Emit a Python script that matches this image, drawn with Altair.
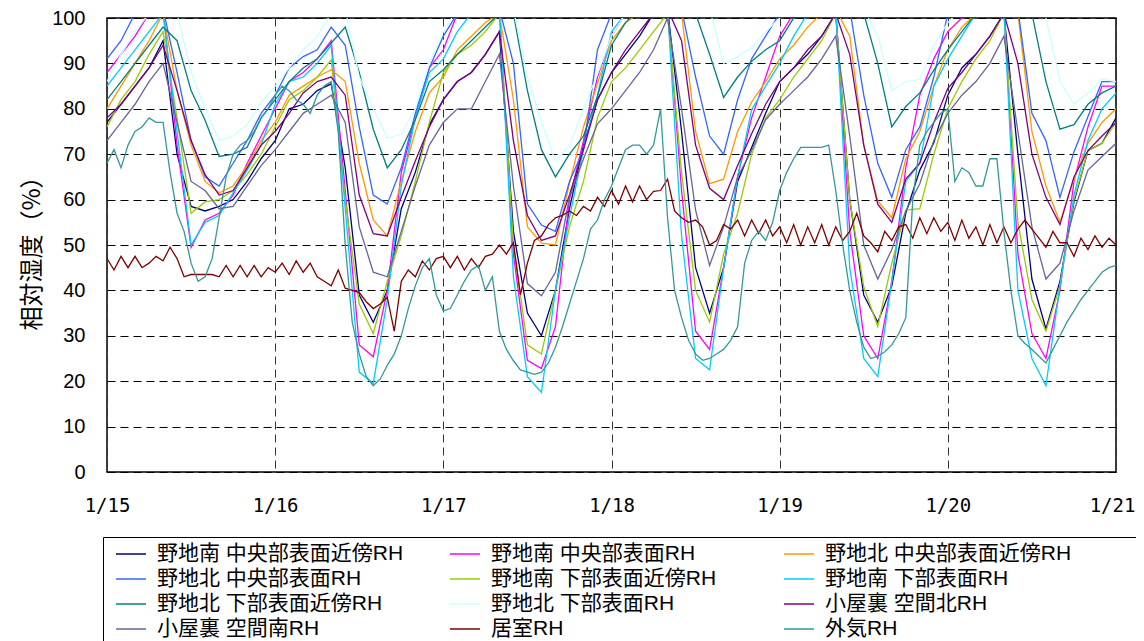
import altair as alt
import pandas as pd

# ---------------- data ----------------
HOURS_2H = list(range(0, 145, 2))      # hours since 1/15 0:00, every 2 h
HOURS_1H = list(range(0, 145))         # hourly grid

DAY_TICKS = [0, 24, 48, 72, 96, 120, 144]
DAY_LABELS = ["1/15", "1/16", "1/17", "1/18", "1/19", "1/20", "1/21"]
Y_TICKS = [0, 10, 20, 30, 40, 50, 60, 70, 80, 90, 100]

SERIES_NAMES = [
    "野地南 中央部表面近傍RH", "野地南 中央部表面RH", "野地北 中央部表面近傍RH",
    "野地北 中央部表面RH", "野地南 下部表面近傍RH", "野地南 下部表面RH",
    "野地北 下部表面近傍RH", "野地北 下部表面RH", "小屋裏 空間北RH",
    "小屋裏 空間南RH", "居室RH", "外気RH",
]
SERIES_COLORS = [
    "#000080", "#FF00FF", "#FF9900",
    "#3366FF", "#99CC00", "#00CCFF",
    "#008080", "#CCFFFF", "#800080",
    "#666699", "#800000", "#339999",
]

S_NAVY = [77, 81, 85, 89, 95, 70, 58.5, 57.5, 58.5, 60, 64, 69,
          73, 80, 81, 84, 85.5, 67, 39, 33, 40, 58, 66, 76.5,
          82, 86, 88, 92, 97, 53, 35, 30, 40, 58, 72, 82,
          88, 92, 96, 101, 102, 75, 45, 35, 45, 64, 71.5, 79,
          86, 89, 92, 96, 101, 60, 39, 33, 41, 57, 66.5, 72.5,
          83, 89, 92, 96, 101, 70, 42.5, 31.5, 42, 59.5, 70.8, 72.4,
          78]
S_MAGENTA = [88, 92, 96, 101, 102, 72, 49.5, 55.5, 57, 61, 68, 74,
             80, 86, 88, 91, 95, 62, 28, 25.4, 40, 66, 78, 89,
             93, 101, 102, 102, 102, 48, 24.6, 22.8, 32, 60, 73, 87,
             96, 101, 102, 102, 102, 62, 31, 27, 45, 65, 78, 87,
             96, 101, 102, 102, 102, 53, 30, 25, 42, 67, 83, 91,
             97, 100, 102, 102, 102, 48, 30.5, 25, 40, 64, 76, 85,
             85]
S_ORANGE = [80, 85, 90, 95, 101, 84, 72, 64, 61.5, 63, 67.5, 73,
            77, 83, 85, 87, 88.6, 86, 68, 55.5, 52, 64, 75, 83.5,
            87, 93, 96, 99, 101, 82, 54, 50.4, 50, 63.5, 76, 85.6,
            95, 99, 101, 102, 102, 101, 75, 63.5, 64.5, 75, 81.5, 86,
            91, 94, 98, 101, 102, 96, 72, 59.7, 56, 69, 75, 85,
            93, 98, 101, 102, 102, 101, 75, 63, 55, 64.5, 72.4, 77,
            80]
S_ROYAL = [91, 95, 101, 102, 102, 88, 73, 65, 63, 68, 73, 79,
           83, 89, 91.5, 93, 98, 94, 76, 61, 59, 67, 79, 89,
           96, 101, 102, 102, 102, 90, 59, 54.4, 53, 64, 71, 93,
           101, 102, 102, 102, 102, 102, 87, 74, 70, 82, 91, 96,
           101, 102, 102, 102, 102, 102, 83, 68, 60.5, 71, 76, 87,
           101, 102, 102, 102, 102, 102, 79, 73, 60.5, 70.5, 78.3, 86,
           86]
S_YGREEN = [76, 82, 86, 92, 97, 78, 57, 59.5, 60, 62, 65.5, 70,
            76, 82, 84, 87, 90.8, 60, 37, 30.5, 42, 52, 64, 77,
            88, 92, 94, 97, 101, 50, 28, 26, 40, 54, 64, 78,
            86, 89, 93, 97, 101, 66, 40, 33, 48, 57, 70, 78,
            82, 87, 91, 95, 101, 60, 40.8, 32, 46, 57.7, 58, 70,
            80, 86, 91, 95, 101, 55, 38, 31, 41, 60, 70.8, 72.4,
            77]
S_SKY = [85, 89, 93, 97, 101, 75, 50, 55, 56.5, 61.5, 66.5, 72,
         81, 86, 87, 90, 94, 58, 22, 19.5, 38, 63, 78, 88,
         91, 97, 101, 102, 102, 43, 21, 17.5, 40, 56, 71, 83,
         97, 101, 102, 102, 102, 52, 25, 22.5, 45, 65, 79.8, 85,
         90, 96, 101, 102, 102, 45, 25, 21, 42, 64, 68, 85,
         91, 96, 101, 102, 102, 40, 25, 19, 41, 61, 73, 80,
         83.5]
S_TEAL = [82, 86, 90, 94, 98, 95, 84, 77.5, 69.5, 70, 71.5, 78,
          82, 86, 89, 91, 94.5, 98, 88, 75.5, 67, 71, 77.6, 86,
          88.6, 92, 95, 98, 101, 101, 84, 71, 65, 70, 74, 82.7,
          94, 99, 102, 102, 102, 102, 101, 92, 82.5, 87, 90.5, 93,
          95, 100, 102, 102, 102, 102, 101, 90, 76, 80.5, 83.5, 88.5,
          93, 97, 101, 102, 102, 102, 101, 86, 75.5, 76.5, 81, 83.5,
          85]
S_LCYAN = [86, 92, 97, 101, 102, 101, 88, 80, 73, 74, 76.5, 81.5,
           85, 89, 93, 96, 101, 102, 87, 80, 73.5, 74.5, 80, 90,
           97, 102, 102, 102, 102, 102, 87, 77, 68.5, 72, 80, 87.6,
           96, 101, 102, 102, 102, 102, 102, 102, 90, 91.5, 93.5, 97,
           100, 102, 102, 102, 102, 102, 102, 96, 84, 86, 86.5, 94,
           99, 102, 102, 102, 102, 102, 102, 100, 86, 81, 83.5, 86.5,
           86]
S_PURPLE = [78, 81, 85, 89, 94, 84, 73, 65.5, 61, 62, 67, 72,
            75, 79, 83.5, 86, 87, 83, 61, 52.5, 52, 60.5, 68.5, 76,
            82, 86, 88, 92, 97, 73, 56.5, 51, 52, 61, 71, 82,
            88, 93, 97, 101, 102, 95, 72, 62.5, 60, 67.5, 74.5, 81,
            86, 89, 93, 96, 101, 92, 72, 59, 55, 64.5, 68, 77,
            84.5, 88, 92, 96, 101, 90, 70, 60.5, 54.5, 65, 70.8, 74,
            77]
S_GRAY = [73, 77, 81, 86, 90, 77, 64, 62, 58, 58.5, 63, 67.5,
          71, 75, 79, 81, 83, 77, 54, 44, 43, 53, 63, 72,
          77, 80, 80, 86, 92, 63, 41.5, 38.8, 44, 60.5, 69, 76.7,
          80, 84, 88, 93, 100, 80, 57.7, 45.5, 54, 65, 70.8, 77.6,
          81, 84, 87, 91, 96, 74, 50, 42.5, 49, 57.5, 63.5, 73,
          79, 83, 86, 90, 96, 75, 54, 42.5, 46, 57.5, 66.5, 69.5,
          72.4]
S_ROOM = [47, 44.5, 47.5, 45, 47.5, 45, 46, 47.5, 46.5, 49.5, 47, 43,
          43.5, 43.5, 43.5, 43.5, 43, 45.5, 43, 45.5, 43, 45.5, 43, 45,
          44, 46, 43.5, 46.5, 44, 46, 43, 42, 41, 44.5, 40.5, 40,
          39.5, 37.5, 36, 37, 38.5, 31, 42, 44.5, 43, 46.5, 44.5, 47,
          47.5, 45, 47.5, 44.5, 47, 45, 47.5, 48, 50, 48, 50.5, 39,
          46, 51, 52, 54.5, 56, 56.5, 57.5, 56.5, 58.5, 57.5, 60.5, 58.5,
          62, 59, 63, 59.5, 63, 60, 61.8, 62, 64.5, 57.5, 56, 55,
          55.5, 54, 50, 51, 54.5, 53.5, 55.5, 52, 55.5, 52.5, 55.5, 52,
          54, 50.5, 54.5, 50, 54, 50.5, 54.5, 50, 54, 51, 53, 57,
          52, 50.5, 48.5, 53, 51, 54, 54.5, 51.5, 56, 52.5, 56, 53,
          55, 51, 55.5, 51.5, 54, 50, 54.5, 50.5, 54, 50.5, 53.5, 55.5,
          53.5, 51.5, 49.5, 53, 50.5, 50.5, 47.5, 51.5, 49, 52, 49.5, 51.5,
          50]
S_OUT = [68, 71, 67, 72, 75, 76, 78, 77, 77, 66, 57, 53,
         46, 42, 43, 47, 56, 65, 70, 72, 73, 75, 78, 80,
         83, 85, 84, 82, 81, 79, 83, 85, 86, 75, 50, 33,
         26, 21, 19, 20.5, 23.5, 26, 30, 36, 41, 45, 47, 39,
         35.5, 36, 39, 42, 44.5, 45.5, 40, 43, 31, 27, 24.5, 22.5,
         22, 21.5, 22, 24, 27.5, 32, 37, 42, 47, 53.5, 55.5, 60,
         63, 67, 71, 72, 72, 70, 72, 80, 56, 40, 34, 29,
         26, 24.6, 25, 26, 27, 29, 32, 46, 51, 53, 51, 55,
         62, 66, 69, 71.5, 71.5, 71.5, 71.5, 72, 62, 50, 40, 33,
         27.5, 25, 25.5, 26.5, 28, 30.5, 34, 60, 72, 75, 77, 79,
         80, 64, 67, 66, 63, 63, 69, 69, 53, 40, 30, 28.3,
         27, 25.5, 24, 27, 30, 33, 35.5, 38, 40, 42, 44, 45,
         45.5]

SERIES_DATA = [
    (SERIES_NAMES[0], HOURS_2H, S_NAVY),
    (SERIES_NAMES[1], HOURS_2H, S_MAGENTA),
    (SERIES_NAMES[2], HOURS_2H, S_ORANGE),
    (SERIES_NAMES[3], HOURS_2H, S_ROYAL),
    (SERIES_NAMES[4], HOURS_2H, S_YGREEN),
    (SERIES_NAMES[5], HOURS_2H, S_SKY),
    (SERIES_NAMES[6], HOURS_2H, S_TEAL),
    (SERIES_NAMES[7], HOURS_2H, S_LCYAN),
    (SERIES_NAMES[8], HOURS_2H, S_PURPLE),
    (SERIES_NAMES[9], HOURS_2H, S_GRAY),
    (SERIES_NAMES[10], HOURS_1H, S_ROOM),
    (SERIES_NAMES[11], HOURS_1H, S_OUT),
]

rows = []
for idx, (name, hrs, vals) in enumerate(SERIES_DATA):
    assert len(hrs) == len(vals), (name, len(hrs), len(vals))
    for h, v in zip(hrs, vals):
        rows.append({"h": h, "rh": v, "series": name, "k": idx})
df = pd.DataFrame(rows)

label_expr = "[" + ",".join("'%s'" % s for s in DAY_LABELS) + "][round(datum.value/24)]"

LEGEND_FONT = "Liberation Sans, Noto Sans CJK JP"

chart = alt.Chart(df).mark_line(strokeWidth=1.3, clip=True).encode(
    x=alt.X(
        "h:Q",
        scale=alt.Scale(domain=[0, 144], nice=False, zero=False),
        axis=alt.Axis(
            values=DAY_TICKS, labelExpr=label_expr, title=None,
            grid=True, gridDash=[8, 5], gridColor="#333333", gridWidth=1,
            ticks=False, domain=False, labelFlush=False, labelAlign="center",
            labelFont="DejaVu Sans Mono", labelFontSize=19, labelColor="black",
            labelPadding=24, labelBaseline="top",
            labelOffset={"expr": "datum.value >= 144 ? -4 : 0"},
        ),
    ),
    y=alt.Y(
        "rh:Q",
        scale=alt.Scale(domain=[0, 100], nice=False),
        axis=alt.Axis(
            values=Y_TICKS, title="相対湿度（%）",
            grid=True, gridDash=[8, 5], gridColor="black", gridWidth=1,
            ticks=False, domain=False,
            labelFont="Liberation Sans", labelFontSize=20, labelColor="black",
            labelPadding=22,
            titleFont="Noto Sans CJK JP", titleFontSize=24, titleFontWeight="normal",
            titleColor="black", titleX=-75, titleY=229, titleAngle=270,
            titleAlign="center", titleBaseline="middle",
        ),
    ),
    color=alt.Color(
        "series:N",
        scale=alt.Scale(domain=SERIES_NAMES, range=SERIES_COLORS),
        legend=alt.Legend(
            orient="none", legendX=-4, legendY=519, direction="horizontal",
            columns=3, title=" ", titleOrient="right", titlePadding=71,
            symbolType="M-1.5,0H1.5", symbolStrokeWidth=1.5,
            symbolSize=400, labelFont=LEGEND_FONT, labelFontSize=21,
            labelColor="black", labelLimit=600, labelOffset=15,
            strokeColor="black", padding=6, symbolOffset=11,
            columnPadding=39, rowPadding=4, gridAlign="all",
        ),
    ),
    order=alt.Order("h:Q"),
).properties(
    width=1009, height=454,
    autosize=alt.AutoSizeParams(type="none"),
    padding={"left": 99, "top": 10, "right": 20, "bottom": 169},
).configure_view(stroke="black", strokeWidth=1.5)

chart.save("out.html", embed_options={"renderer": "svg", "actions": False})
